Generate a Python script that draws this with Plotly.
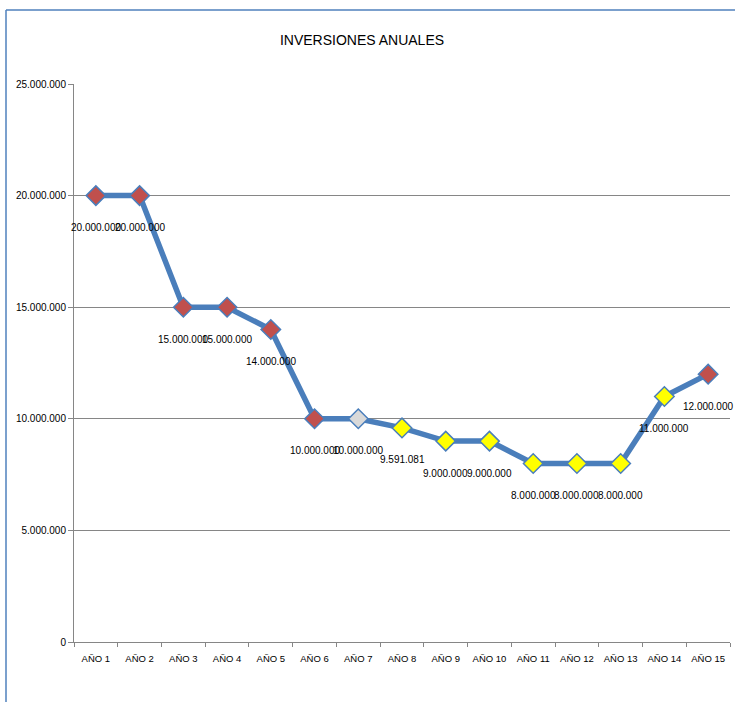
import plotly.graph_objects as go

categories = ["AÑO 1", "AÑO 2", "AÑO 3", "AÑO 4", "AÑO 5", "AÑO 6", "AÑO 7", "AÑO 8",
              "AÑO 9", "AÑO 10", "AÑO 11", "AÑO 12", "AÑO 13", "AÑO 14", "AÑO 15"]
values = [20000000, 20000000, 15000000, 15000000, 14000000, 10000000, 10000000, 9591081,
          9000000, 9000000, 8000000, 8000000, 8000000, 11000000, 12000000]
marker_colors = ["#C0504D"] * 6 + ["#D9D9D9"] + ["#FFFF00"] * 7 + ["#C0504D"]
y_ticks = [0, 5000000, 10000000, 15000000, 20000000, 25000000]

def fmt(v):
    return f"{v:,}".replace(",", ".")

fig = go.Figure()
fig.add_trace(go.Scatter(
    x=categories, y=values, mode="lines+markers",
    line=dict(color="#4A7EBB", width=5.5),
    marker=dict(symbol="diamond", size=15, color=marker_colors,
                line=dict(color="#4A7EBB", width=1.5)),
    hoverinfo="skip", showlegend=False,
))

for c, v in zip(categories, values):
    fig.add_annotation(x=c, y=v, text=fmt(v), showarrow=False, yshift=-32,
                       font=dict(family="Liberation Sans", size=10, color="#000000"))

fig.update_layout(
    width=735, height=702,
    margin=dict(l=74, r=5, t=84, b=60),
    paper_bgcolor="white", plot_bgcolor="white",
    separators=",.",
    title=dict(text="INVERSIONES ANUALES", x=362 / 735, xanchor="center",
               y=1 - 40 / 702, yanchor="middle",
               font=dict(family="Liberation Sans", size=14, color="#000000")),
    font=dict(family="Liberation Sans", size=10, color="#000000"),
)
fig.update_xaxes(
    type="category", range=[-0.5, 14.5], showgrid=False,
    showline=True, linecolor="#868686", linewidth=1,
    ticks="outside", tickson="boundaries", ticklen=4, tickcolor="#868686",
    ticklabelstandoff=8,
    tickfont=dict(size=9.5), fixedrange=True,
)
fig.update_yaxes(
    range=[0, 25000000], tickvals=y_ticks, tickformat=",d",
    showgrid=True, gridcolor="#868686", gridwidth=1,
    showline=True, linecolor="#868686", linewidth=1,
    ticks="outside", ticklen=5, tickcolor="#868686",
    tickfont=dict(size=10), zeroline=False, fixedrange=True,
)

# outer chart border (top and left edges visible in reference)
fig.add_shape(type="line", xref="paper", yref="paper",
              x0=(6 - 74) / 656, x1=(740 - 74) / 656,
              y0=(642 - 10) / 558, y1=(642 - 10) / 558,
              line=dict(color="#4F81BD", width=1.5))
fig.add_shape(type="line", xref="paper", yref="paper",
              x0=(6 - 74) / 656, x1=(6 - 74) / 656,
              y0=(642 - 10) / 558, y1=(642 - 710) / 558,
              line=dict(color="#4F81BD", width=1.5))

fig.write_html("out.html")
